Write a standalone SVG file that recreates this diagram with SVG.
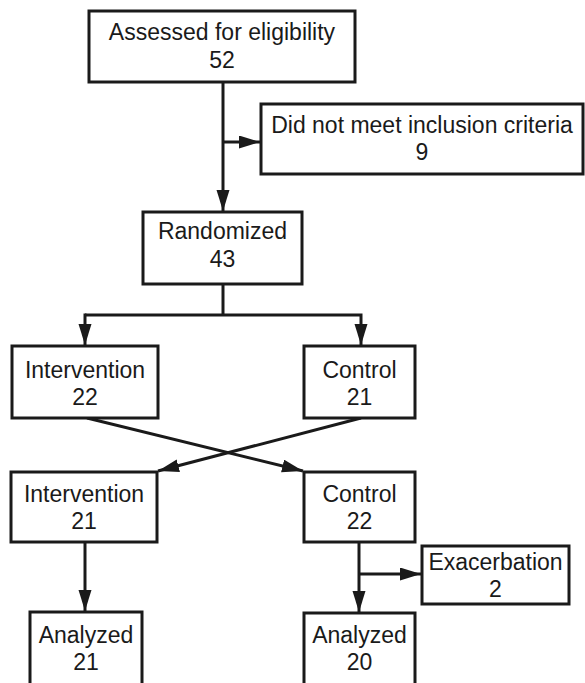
<svg xmlns="http://www.w3.org/2000/svg" width="585" height="683" viewBox="0 0 585 683">
<style>
.box{fill:#fff;stroke:#1a1a1a;stroke-width:3}
.t{font-family:"Liberation Sans",Arial,sans-serif;font-size:23px;fill:#1a1a1a;text-anchor:middle}
.c{fill:none;stroke:#1a1a1a;stroke-width:3}
</style>
<defs>
<marker id="ah" markerUnits="userSpaceOnUse" markerWidth="22" markerHeight="14" refX="21" refY="6.5" orient="auto">
<path d="M0,0 L21,6.5 L0,13 z" fill="#1a1a1a"/>
</marker>
</defs>
<rect width="585" height="683" fill="#fff"/>
<g id="connectors">
<line class="c" x1="223" y1="82" x2="223" y2="211" marker-end="url(#ah)"/>
<line class="c" x1="223" y1="142" x2="260" y2="142" marker-end="url(#ah)"/>
<polyline class="c" points="223,284 223,315"/>
<polyline class="c" points="85,315 361,315 361,345" marker-end="url(#ah)"/>
<line class="c" x1="85" y1="313.5" x2="85" y2="345" marker-end="url(#ah)"/>
<line class="c" x1="87" y1="418" x2="303" y2="471" marker-end="url(#ah)"/>
<line class="c" x1="361" y1="418" x2="158" y2="471" marker-end="url(#ah)"/>
<line class="c" x1="85" y1="542" x2="85" y2="611" marker-end="url(#ah)"/>
<line class="c" x1="359" y1="542" x2="359" y2="612" marker-end="url(#ah)"/>
<line class="c" x1="359" y1="574" x2="421" y2="574" marker-end="url(#ah)"/>
</g>
<g id="assessed">
<rect class="box" x="89" y="11" width="266" height="71"/>
<text class="t" x="222" y="40">Assessed for eligibility</text>
<text class="t" x="222" y="68">52</text>
</g>
<g id="excluded">
<rect class="box" x="261" y="104" width="322" height="70"/>
<text class="t" x="422" y="133">Did not meet inclusion criteria</text>
<text class="t" x="422" y="160">9</text>
</g>
<g id="randomized">
<rect class="box" x="143" y="212" width="159" height="72"/>
<text class="t" x="222.5" y="239">Randomized</text>
<text class="t" x="222.5" y="267">43</text>
</g>
<g id="intervention1">
<rect class="box" x="12" y="346" width="146" height="72"/>
<text class="t" x="85" y="378">Intervention</text>
<text class="t" x="85" y="405">22</text>
</g>
<g id="control1">
<rect class="box" x="304" y="346" width="111" height="72"/>
<text class="t" x="359.5" y="378">Control</text>
<text class="t" x="359.5" y="405">21</text>
</g>
<g id="intervention2">
<rect class="box" x="11" y="472" width="146" height="70"/>
<text class="t" x="84" y="502">Intervention</text>
<text class="t" x="84" y="529">21</text>
</g>
<g id="control2">
<rect class="box" x="304" y="472" width="111" height="70"/>
<text class="t" x="359.5" y="502">Control</text>
<text class="t" x="359.5" y="529">22</text>
</g>
<g id="exacerbation">
<rect class="box" x="422" y="546" width="147" height="58"/>
<text class="t" x="495.5" y="570">Exacerbation</text>
<text class="t" x="495.5" y="597">2</text>
</g>
<g id="analyzed1">
<rect class="box" x="30" y="612" width="112" height="90"/>
<text class="t" x="86" y="643">Analyzed</text>
<text class="t" x="86" y="670">21</text>
</g>
<g id="analyzed2">
<rect class="box" x="304" y="613" width="111" height="90"/>
<text class="t" x="359.5" y="643">Analyzed</text>
<text class="t" x="359.5" y="670">20</text>
</g>
</svg>
